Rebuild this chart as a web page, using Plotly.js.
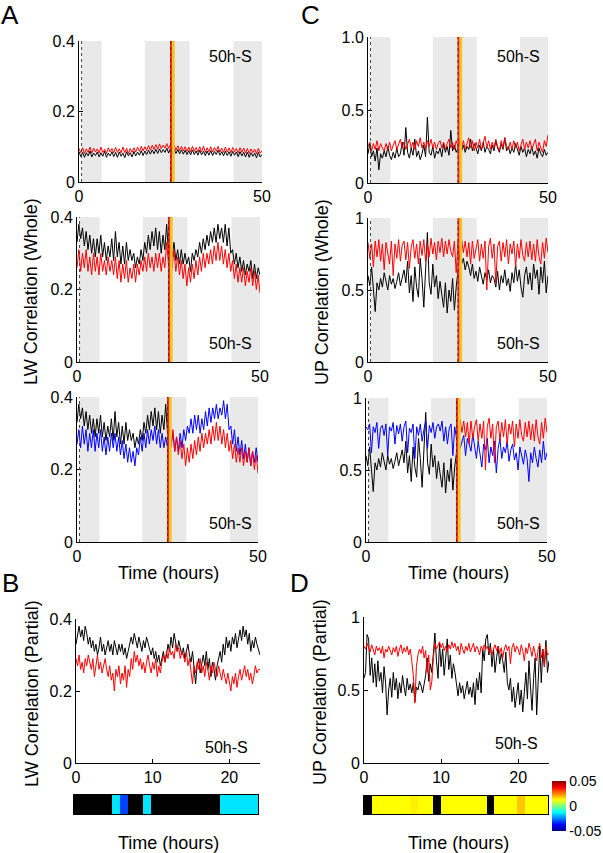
<!DOCTYPE html>
<html>
<head>
<meta charset="utf-8">
<script src="https://cdn.plot.ly/plotly-3.0.1.min.js"></script>
<style>html,body{margin:0;padding:0;background:#fff}#chart{width:603px;height:853px}</style>
</head>
<body>
<div id="chart"></div>
<script>
// ---------------- DATA ----------------
// Time step: 0.5 h for the 50 h panels, 0.2 h for the 24 h panels
const darkPeriods = [[0.7, 6.2], [18, 30.2], [42.2, 50]];
const stimHour = 25;

// A top: LW correlation (whole), 50h-S
const lwTopBlack = [
 0.086,0.072,0.084,0.070,0.083,0.074,0.088,0.071,0.082,0.075,
 0.085,0.071,0.083,0.073,0.087,0.070,0.082,0.074,0.086,0.072,
 0.084,0.070,0.085,0.073,0.082,0.069,0.086,0.074,0.083,0.071,
 0.087,0.074,0.085,0.076,0.089,0.075,0.088,0.078,0.090,0.079,
 0.091,0.080,0.093,0.081,0.094,0.083,0.092,0.084,0.096,0.082,
 0.095,0.083,0.093,0.081,0.092,0.080,0.091,0.079,0.090,0.078,
 0.089,0.077,0.091,0.078,0.088,0.076,0.090,0.077,0.087,0.075,
 0.088,0.076,0.089,0.075,0.087,0.078,0.090,0.076,0.086,0.074,
 0.088,0.075,0.086,0.073,0.087,0.076,0.085,0.072,0.086,0.074,
 0.084,0.071,0.085,0.070,0.083,0.073,0.082,0.069,0.084,0.071,
 0.078];
const lwTopRed = [
 0.095,0.083,0.097,0.081,0.094,0.084,0.099,0.082,0.096,0.085,
 0.094,0.082,0.099,0.084,0.093,0.081,0.097,0.085,0.095,0.083,
 0.098,0.084,0.094,0.082,0.099,0.083,0.096,0.081,0.095,0.084,
 0.097,0.085,0.099,0.087,0.101,0.088,0.100,0.089,0.103,0.090,
 0.104,0.092,0.106,0.093,0.108,0.094,0.105,0.096,0.109,0.095,
 0.106,0.092,0.104,0.090,0.103,0.089,0.101,0.088,0.100,0.087,
 0.099,0.086,0.101,0.087,0.098,0.085,0.100,0.086,0.102,0.084,
 0.097,0.086,0.100,0.085,0.098,0.087,0.101,0.085,0.096,0.084,
 0.099,0.085,0.097,0.083,0.098,0.086,0.095,0.082,0.097,0.084,
 0.096,0.082,0.095,0.081,0.094,0.083,0.093,0.080,0.095,0.082,
 0.088];

// A middle: LW correlation (whole)
const lwWholeBlack = [
 0.33,0.38,0.34,0.37,0.32,0.36,0.31,0.35,0.30,0.34,
 0.29,0.34,0.30,0.35,0.29,0.33,0.28,0.32,0.29,0.34,
 0.28,0.36,0.29,0.33,0.27,0.32,0.27,0.33,0.28,0.31,
 0.28,0.30,0.26,0.29,0.27,0.31,0.28,0.33,0.30,0.35,
 0.31,0.36,0.32,0.37,0.31,0.36,0.30,0.35,0.31,0.38,
 0.30,0.32,0.29,0.33,0.28,0.31,0.27,0.31,0.27,0.30,
 0.27,0.29,0.25,0.30,0.28,0.31,0.29,0.33,0.30,0.34,
 0.31,0.35,0.32,0.36,0.33,0.37,0.33,0.38,0.34,0.37,
 0.33,0.38,0.32,0.37,0.30,0.31,0.27,0.30,0.26,0.29,
 0.25,0.28,0.24,0.27,0.25,0.28,0.23,0.27,0.23,0.26,
 0.24];
const lwWholeRed = [
 0.26,0.31,0.25,0.30,0.26,0.31,0.25,0.29,0.24,0.30,
 0.25,0.29,0.24,0.30,0.25,0.28,0.24,0.29,0.25,0.28,
 0.24,0.29,0.23,0.28,0.22,0.27,0.23,0.28,0.22,0.26,
 0.23,0.27,0.22,0.27,0.24,0.28,0.25,0.29,0.25,0.30,
 0.26,0.29,0.25,0.30,0.26,0.30,0.25,0.29,0.26,0.33,
 0.27,0.32,0.26,0.31,0.25,0.29,0.24,0.28,0.23,0.27,
 0.21,0.26,0.22,0.27,0.23,0.28,0.24,0.29,0.25,0.30,
 0.26,0.30,0.27,0.31,0.27,0.32,0.28,0.33,0.28,0.32,
 0.27,0.31,0.26,0.30,0.25,0.28,0.23,0.27,0.22,0.26,
 0.22,0.26,0.21,0.25,0.22,0.26,0.21,0.25,0.20,0.24,
 0.19];
const lwWholeBlue = [
 0.27,0.31,0.26,0.32,0.27,0.31,0.25,0.30,0.26,0.31,
 0.25,0.30,0.26,0.31,0.25,0.29,0.24,0.29,0.25,0.30,
 0.26,0.30,0.25,0.29,0.24,0.28,0.23,0.27,0.22,0.26,
 0.22,0.25,0.21,0.26,0.24,0.29,0.25,0.30,0.26,0.31,
 0.27,0.31,0.28,0.32,0.27,0.31,0.26,0.30,0.26,0.29,
 0.26,0.31,0.27,0.30,0.25,0.29,0.25,0.30,0.26,0.31,
 0.28,0.32,0.30,0.34,0.30,0.35,0.31,0.35,0.30,0.34,
 0.31,0.36,0.32,0.37,0.33,0.37,0.34,0.38,0.34,0.37,
 0.35,0.39,0.34,0.38,0.31,0.32,0.27,0.31,0.25,0.29,
 0.24,0.28,0.23,0.27,0.22,0.26,0.21,0.25,0.22,0.26,
 0.22];

// C top: UP correlation (whole), 50h-S
const upTopBlack = [
 0.20,0.27,0.18,0.22,0.15,0.24,0.09,0.20,0.17,0.22,
 0.18,0.25,0.19,0.16,0.21,0.17,0.24,0.18,0.20,0.28,
 0.19,0.38,0.21,0.17,0.24,0.19,0.30,0.18,0.22,0.16,
 0.20,0.26,0.18,0.45,0.21,0.19,0.25,0.17,0.22,0.20,
 0.24,0.18,0.27,0.21,0.25,0.19,0.36,0.22,0.26,0.21,
 0.24,0.28,0.22,0.26,0.21,0.25,0.23,0.30,0.22,0.27,
 0.24,0.20,0.26,0.22,0.28,0.21,0.25,0.23,0.20,0.26,
 0.22,0.29,0.24,0.21,0.27,0.23,0.31,0.22,0.25,0.20,
 0.24,0.21,0.27,0.22,0.19,0.25,0.21,0.24,0.18,0.23,
 0.20,0.25,0.19,0.22,0.17,0.24,0.20,0.18,0.23,0.19,
 0.21];
const upTopRed = [
 0.25,0.28,0.22,0.27,0.23,0.29,0.22,0.27,0.24,0.22,
 0.27,0.23,0.28,0.22,0.26,0.29,0.23,0.27,0.30,0.24,
 0.28,0.23,0.27,0.30,0.24,0.28,0.23,0.29,0.25,0.31,
 0.24,0.28,0.23,0.29,0.25,0.30,0.24,0.28,0.23,0.27,
 0.29,0.24,0.28,0.23,0.27,0.30,0.24,0.28,0.23,0.29,
 0.25,0.30,0.24,0.29,0.23,0.28,0.31,0.24,0.29,0.22,
 0.28,0.24,0.30,0.23,0.28,0.32,0.24,0.29,0.23,0.28,
 0.24,0.30,0.25,0.22,0.29,0.24,0.31,0.25,0.23,0.28,
 0.23,0.29,0.24,0.28,0.22,0.27,0.30,0.23,0.28,0.24,
 0.29,0.23,0.27,0.30,0.22,0.28,0.24,0.21,0.29,0.25,
 0.33];

// C middle: UP correlation (whole)
const upWholeBlack = [
 0.60,0.53,0.66,0.48,0.35,0.55,0.50,0.58,0.52,0.62,
 0.55,0.50,0.60,0.54,0.58,0.51,0.56,0.62,0.53,0.59,
 0.64,0.55,0.70,0.48,0.60,0.42,0.66,0.52,0.45,0.72,
 0.58,0.38,0.62,0.90,0.55,0.47,0.68,0.52,0.60,0.44,
 0.56,0.48,0.38,0.55,0.34,0.50,0.42,0.58,0.36,0.52,
 0.62,0.75,0.68,0.72,0.64,0.70,0.66,0.60,0.68,0.58,
 0.63,0.56,0.66,0.59,0.54,0.62,0.57,0.64,0.55,0.60,
 0.58,0.52,0.63,0.50,0.60,0.55,0.64,0.53,0.58,0.49,
 0.62,0.55,0.68,0.56,0.64,0.52,0.45,0.60,0.66,0.54,
 0.62,0.50,0.68,0.58,0.64,0.47,0.66,0.55,0.70,0.48,
 0.60];
const upWholeRed = [
 0.83,0.72,0.82,0.66,0.84,0.73,0.85,0.70,0.82,0.64,
 0.83,0.74,0.68,0.84,0.60,0.82,0.72,0.85,0.70,0.81,
 0.84,0.71,0.83,0.65,0.80,0.85,0.72,0.82,0.68,0.84,
 0.74,0.85,0.70,0.82,0.73,0.86,0.75,0.83,0.71,0.84,
 0.76,0.86,0.73,0.84,0.75,0.85,0.77,0.73,0.84,0.62,
 0.84,0.75,0.85,0.76,0.84,0.73,0.83,0.68,0.84,0.72,
 0.80,0.85,0.70,0.82,0.72,0.84,0.50,0.80,0.86,0.72,
 0.82,0.55,0.80,0.84,0.70,0.83,0.73,0.85,0.68,0.82,
 0.75,0.84,0.66,0.82,0.72,0.85,0.74,0.70,0.83,0.73,
 0.84,0.71,0.82,0.70,0.85,0.73,0.68,0.83,0.72,0.86,
 0.76];
const upWholeBlue = [
 0.80,0.78,0.82,0.62,0.80,0.76,0.83,0.65,0.79,0.81,
 0.74,0.82,0.60,0.80,0.77,0.83,0.68,0.81,0.75,0.82,
 0.70,0.80,0.84,0.62,0.79,0.76,0.82,0.58,0.80,0.74,
 0.82,0.70,0.78,0.84,0.65,0.81,0.76,0.83,0.72,0.80,
 0.82,0.77,0.84,0.70,0.80,0.68,0.79,0.82,0.60,0.80,
 0.72,0.76,0.65,0.70,0.74,0.60,0.72,0.68,0.63,0.75,
 0.66,0.58,0.70,0.62,0.52,0.68,0.64,0.72,0.55,0.66,
 0.60,0.70,0.48,0.65,0.72,0.58,0.66,0.62,0.70,0.56,
 0.64,0.68,0.57,0.62,0.50,0.66,0.60,0.54,0.64,0.58,
 0.42,0.62,0.55,0.66,0.58,0.52,0.64,0.55,0.70,0.57,
 0.62];

// B: LW correlation (partial), 0-24 h
const lwPartBlack = [
 0.33,0.36,0.38,0.35,0.37,0.34,0.38,0.36,0.33,0.35,
 0.32,0.34,0.31,0.33,0.30,0.32,0.35,0.31,0.33,0.30,
 0.32,0.34,0.31,0.33,0.30,0.34,0.32,0.30,0.33,0.31,
 0.33,0.30,0.32,0.29,0.31,0.33,0.35,0.33,0.36,0.34,
 0.32,0.35,0.33,0.31,0.34,0.32,0.35,0.33,0.31,0.30,
 0.32,0.29,0.31,0.28,0.30,0.27,0.29,0.31,0.28,0.30,
 0.33,0.31,0.35,0.32,0.36,0.33,0.31,0.34,0.32,0.30,
 0.32,0.29,0.31,0.33,0.30,0.28,0.31,0.26,0.22,0.27,
 0.29,0.25,0.28,0.30,0.27,0.31,0.26,0.29,0.24,0.28,
 0.26,0.23,0.27,0.29,0.31,0.28,0.33,0.30,0.35,0.32,
 0.34,0.31,0.35,0.33,0.36,0.32,0.34,0.37,0.34,0.38,
 0.35,0.37,0.33,0.36,0.31,0.34,0.32,0.35,0.33,0.31,
 0.30];
const lwPartRed = [
 0.29,0.27,0.30,0.26,0.28,0.25,0.29,0.27,0.30,0.28,
 0.26,0.29,0.24,0.27,0.30,0.26,0.28,0.25,0.27,0.29,
 0.26,0.24,0.27,0.23,0.25,0.20,0.26,0.24,0.27,0.22,
 0.25,0.23,0.27,0.21,0.26,0.24,0.29,0.26,0.31,0.28,
 0.30,0.27,0.29,0.26,0.28,0.25,0.28,0.30,0.27,0.25,
 0.28,0.26,0.29,0.24,0.27,0.25,0.28,0.30,0.28,0.31,
 0.29,0.32,0.30,0.31,0.29,0.33,0.31,0.32,0.29,0.31,
 0.30,0.28,0.31,0.27,0.29,0.26,0.22,0.27,0.25,0.28,
 0.26,0.29,0.25,0.27,0.24,0.28,0.26,0.23,0.27,0.25,
 0.28,0.26,0.24,0.27,0.25,0.23,0.26,0.24,0.22,0.25,
 0.23,0.20,0.24,0.22,0.25,0.21,0.24,0.26,0.23,0.25,
 0.27,0.24,0.26,0.23,0.25,0.22,0.24,0.27,0.25,0.26,
 0.26];

// D: UP correlation (partial), 0-24 h
const upPartBlack = [
 0.58,0.62,0.88,0.85,0.60,0.72,0.55,0.68,0.52,0.70,
 0.56,0.62,0.48,0.66,0.55,0.33,0.50,0.58,0.45,0.62,
 0.50,0.58,0.44,0.55,0.48,0.60,0.52,0.46,0.58,0.50,
 0.54,0.48,0.55,0.42,0.52,0.50,0.56,0.53,0.48,0.55,
 0.60,0.72,0.56,0.68,0.62,0.75,0.89,0.70,0.58,0.82,
 0.66,0.78,0.60,0.72,0.85,0.64,0.74,0.58,0.68,0.62,
 0.52,0.46,0.55,0.48,0.53,0.44,0.50,0.56,0.47,0.52,
 0.45,0.55,0.40,0.58,0.50,0.62,0.48,0.78,0.70,0.85,
 0.88,0.74,0.82,0.66,0.78,0.62,0.72,0.80,0.68,0.75,
 0.70,0.62,0.76,0.55,0.50,0.58,0.42,0.52,0.38,0.48,
 0.55,0.40,0.50,0.35,0.46,0.62,0.44,0.70,0.52,0.36,
 0.58,0.72,0.33,0.62,0.80,0.55,0.78,0.66,0.84,0.62,
 0.70];
const upPartRed = [
 0.80,0.78,0.82,0.79,0.76,0.81,0.78,0.74,0.80,0.77,
 0.79,0.75,0.80,0.72,0.78,0.76,0.80,0.77,0.74,0.79,
 0.76,0.80,0.73,0.78,0.81,0.75,0.79,0.76,0.80,0.74,
 0.78,0.70,0.60,0.41,0.66,0.74,0.78,0.75,0.80,0.72,
 0.77,0.62,0.74,0.50,0.56,0.72,0.82,0.78,0.80,0.83,
 0.79,0.82,0.77,0.80,0.76,0.81,0.78,0.83,0.79,0.82,
 0.77,0.80,0.74,0.82,0.78,0.75,0.80,0.77,0.82,0.76,
 0.79,0.82,0.76,0.80,0.78,0.74,0.80,0.77,0.81,0.78,
 0.80,0.76,0.79,0.74,0.78,0.81,0.77,0.80,0.75,0.79,
 0.72,0.78,0.81,0.77,0.80,0.68,0.79,0.82,0.76,0.80,
 0.78,0.74,0.81,0.77,0.70,0.79,0.75,0.82,0.78,0.73,
 0.80,0.75,0.70,0.78,0.82,0.72,0.77,0.66,0.80,0.74,
 0.75];

// Hourly difference strips (null = not significant, drawn black)
const lwPartDiff = [null,null,null,null,null,-0.015,-0.031,null,null,-0.015,
  null,null,null,null,null,null,null,null,null,-0.015,-0.015,-0.015,-0.015,-0.015];
const upPartDiff = [null,0.0125,0.0125,0.0125,0.0125,0.0125,0.014,0.0125,0.0125,null,
  0.0125,0.0125,0.0125,0.0125,0.0125,0.0125,null,0.0125,0.0125,0.0125,0.018,0.0125,0.0125,0.0125];

const yTicksLW = [0, 0.2, 0.4];
const yTicksUP = [0, 0.5, 1];
const colorbarTicks = [-0.05, 0, 0.05];
const colorbarText = ['-0.05', '0', '0.05'];

// ---------------- LAYOUT ----------------
const W = 603, H = 853;
const FONT = 'Liberation Sans, Arial, Helvetica, sans-serif';
const px = p => p / W;
const py = p => 1 - p / H;
const jet = [[0,'rgb(0,0,143)'],[0.125,'rgb(0,0,255)'],[0.375,'rgb(0,255,255)'],
             [0.625,'rgb(255,255,0)'],[0.875,'rgb(255,0,0)'],[1,'rgb(128,0,0)']];

const panels = [
  {id:'',  xd:[79,262],  yd:[41,182],  yr:[0,0.4], yt:yTicksLW, ytt:['0','0.2','0.4'], xr:[0,50], xt:[0,50], cycle:true},
  {id:'2', xd:[77,260],  yd:[217,362], yr:[0,0.4], yt:yTicksLW, ytt:['0','0.2','0.4'], xr:[0,50], xt:[0,50], cycle:true},
  {id:'3', xd:[77,258],  yd:[397,542], yr:[0,0.4], yt:yTicksLW, ytt:['0','0.2','0.4'], xr:[0,50], xt:[0,50], cycle:true},
  {id:'4', xd:[76,260],  yd:[619,763], yr:[0,0.4], yt:yTicksLW, ytt:['0','0.2','0.4'], xr:[0,24], xt:[0,10,20], cycle:false},
  {id:'6', xd:[368,548], yd:[37,183],  yr:[0,1], yt:yTicksUP, ytt:['0','0.5','1.0'], xr:[0,50], xt:[0,50], cycle:true},
  {id:'7', xd:[368,548], yd:[218,362], yr:[0,1], yt:yTicksUP, ytt:['0','0.5','1'], xr:[0,50], xt:[0,50], cycle:true},
  {id:'8', xd:[366,547], yd:[398,542], yr:[0,1], yt:yTicksUP, ytt:['0','0.5','1'], xr:[0,50], xt:[0,50], cycle:true},
  {id:'9', xd:[364,549], yd:[617,763], yr:[0,1], yt:yTicksUP, ytt:['0','0.5','1'], xr:[0,24], xt:[0,10,20], cycle:false}
];
const strips = [
  {id:'5',  xd:[74,258],  yd:[795,814]},
  {id:'10', xd:[364,548], yd:[796,814]}
];

const layout = {
  width: W, height: H,
  margin: {l:0, r:0, t:0, b:0, pad:0},
  paper_bgcolor: '#ffffff', plot_bgcolor: '#ffffff',
  showlegend: false,
  font: {family: FONT, size: 16, color: '#000'},
  shapes: [], annotations: []
};

const tickfont = {family: FONT, size: 16, color: '#000'};
panels.forEach(p => {
  layout['xaxis' + p.id] = {
    domain: [px(p.xd[0]), px(p.xd[1])], anchor: 'y' + p.id, range: p.xr,
    tickvals: p.xt, ticktext: p.xt.map(String), ticks: 'inside', ticklen: 4, tickcolor: '#000',
    showline: true, linecolor: '#000', linewidth: 1, showgrid: false, zeroline: false,
    tickfont: tickfont, fixedrange: true
  };
  layout['yaxis' + p.id] = {
    domain: [py(p.yd[1]), py(p.yd[0])], anchor: 'x' + p.id, range: p.yr,
    tickvals: p.yt, ticktext: p.ytt, ticks: 'inside', ticklen: 4, tickcolor: '#000',
    showline: true, linecolor: '#000', linewidth: 1, showgrid: false, zeroline: false,
    tickfont: tickfont, fixedrange: true
  };
  if (p.cycle) {
    const xr = 'x' + p.id, yr = 'y' + p.id + ' domain';
    darkPeriods.forEach(d => layout.shapes.push({type:'rect', xref:xr, yref:yr, x0:d[0], x1:d[1], y0:0, y1:1,
      fillcolor:'#e9e9e9', line:{width:0}, layer:'below'}));
    layout.shapes.push({type:'line', xref:xr, yref:yr, x0:darkPeriods[0][0], x1:darkPeriods[0][0], y0:0, y1:1,
      line:{color:'#444', width:1, dash:'dot'}, layer:'above'});
    layout.shapes.push({type:'rect', xref:xr, yref:yr, x0:stimHour - 0.15, x1:stimHour + 0.45, y0:0, y1:1,
      fillcolor:'#e4321b', line:{width:0}, layer:'above'});
    layout.shapes.push({type:'rect', xref:xr, yref:yr, x0:stimHour + 0.45, x1:stimHour + 1.15, y0:0, y1:1,
      fillcolor:'#f6c21c', line:{width:0}, layer:'above'});
    layout.shapes.push({type:'line', xref:xr, yref:yr, x0:stimHour, x1:stimHour, y0:0, y1:1,
      line:{color:'#8a1a0a', width:1, dash:'dot'}, layer:'above'});
  }
});
strips.forEach(s => {
  layout['xaxis' + s.id] = {
    domain: [px(s.xd[0]), px(s.xd[1])], anchor: 'y' + s.id, range: [0, 24],
    showticklabels: false, ticks: '', showline: true, mirror: true, linecolor: '#000', linewidth: 1,
    showgrid: false, zeroline: false, fixedrange: true
  };
  layout['yaxis' + s.id] = {
    domain: [py(s.yd[1]), py(s.yd[0])], anchor: 'x' + s.id, range: [-0.5, 0.5],
    showticklabels: false, ticks: '', showline: true, mirror: true, linecolor: '#000', linewidth: 1,
    showgrid: false, zeroline: false, fixedrange: true
  };
  layout.shapes.push({type:'rect', xref:'x' + s.id, yref:'y' + s.id + ' domain', x0:0, x1:24, y0:0, y1:1,
    fillcolor:'#000', line:{width:0}, layer:'below'});
});

function ann(text, x, y, size, extra) {
  layout.annotations.push(Object.assign({text: text, x: px(x), y: py(y), xref:'paper', yref:'paper',
    showarrow: false, xanchor:'center', yanchor:'middle', font:{family: FONT, size: size, color:'#000'}}, extra || {}));
}
// panel letters
ann('A', 10, 15, 26); ann('C', 310, 15, 26); ann('B', 10, 583, 26); ann('D', 299, 583, 26);
// condition tags
[[230,56],[230,343],[230,523],[226,747],[518,56],[518,343],[518,523],[516,743]].forEach(c => ann('50h-S', c[0], c[1], 16));
// axis titles
ann('LW Correlation (Whole)', 31, 292, 18, {textangle:-90});
ann('UP Correlation (Whole)', 322, 292, 18, {textangle:-90});
ann('LW Correlation (Partial)', 32, 694, 18, {textangle:-90});
ann('UP Correlation (Partial)', 320, 692, 18, {textangle:-90});
ann('Time (hours)', 168, 573, 18); ann('Time (hours)', 458, 573, 18);
ann('Time (hours)', 168, 843, 18); ann('Time (hours)', 458, 843, 18);

// ---------------- TRACES ----------------
function line(y, ax, color, x0, dx) {
  return {type:'scatter', mode:'lines', y: y, x0: x0, dx: dx, xaxis: 'x' + ax, yaxis: 'y' + ax,
          line:{color: color, width: 1}, hoverinfo:'skip'};
}
const BLACK = '#000000', RED = '#ff0000', BLUE = '#0000ff';
const traces = [
  line(lwTopBlack, '', BLACK, 0, 0.5), line(lwTopRed, '', RED, 0, 0.5),
  line(lwWholeBlack, '2', BLACK, 0, 0.5), line(lwWholeRed, '2', RED, 0, 0.5),
  line(lwWholeBlack.slice(0, 51), '3', BLACK, 0, 0.5), line(lwWholeBlue, '3', BLUE, 0, 0.5),
  line(lwWholeRed.slice(50), '3', RED, 25, 0.5),
  line(lwPartBlack, '4', BLACK, 0, 0.2), line(lwPartRed, '4', RED, 0, 0.2),
  line(upTopBlack, '6', BLACK, 0, 0.5), line(upTopRed, '6', RED, 0, 0.5),
  line(upWholeBlack, '7', BLACK, 0, 0.5), line(upWholeRed, '7', RED, 0, 0.5),
  line(upWholeBlack.slice(0, 51), '8', BLACK, 0, 0.5), line(upWholeBlue, '8', BLUE, 0, 0.5),
  line(upWholeRed.slice(50), '8', RED, 25, 0.5),
  line(upPartBlack, '9', BLACK, 0, 0.2), line(upPartRed, '9', RED, 0, 0.2),
  {type:'heatmap', z:[lwPartDiff], x0:0.5, dx:1, y:[0], xaxis:'x5', yaxis:'y5', colorscale: jet,
   zmin:-0.05, zmax:0.05, showscale:false, hoverinfo:'skip'},
  {type:'heatmap', z:[upPartDiff], x0:0.5, dx:1, y:[0], xaxis:'x10', yaxis:'y10', colorscale: jet,
   zmin:-0.05, zmax:0.05, hoverinfo:'skip',
   colorbar:{x: px(552), xanchor:'left', xpad:0, y: py(806), yanchor:'middle', ypad:0,
     len: 50, lenmode:'pixels', thickness: 14, thicknessmode:'pixels', outlinewidth: 0,
     ticks:'', tickvals: colorbarTicks, ticktext: colorbarText,
     tickfont:{family: FONT, size: 14, color:'#000'}}}
];

Plotly.newPlot('chart', traces, layout, {staticPlot: true, displayModeBar: false});
</script>
</body>
</html>
